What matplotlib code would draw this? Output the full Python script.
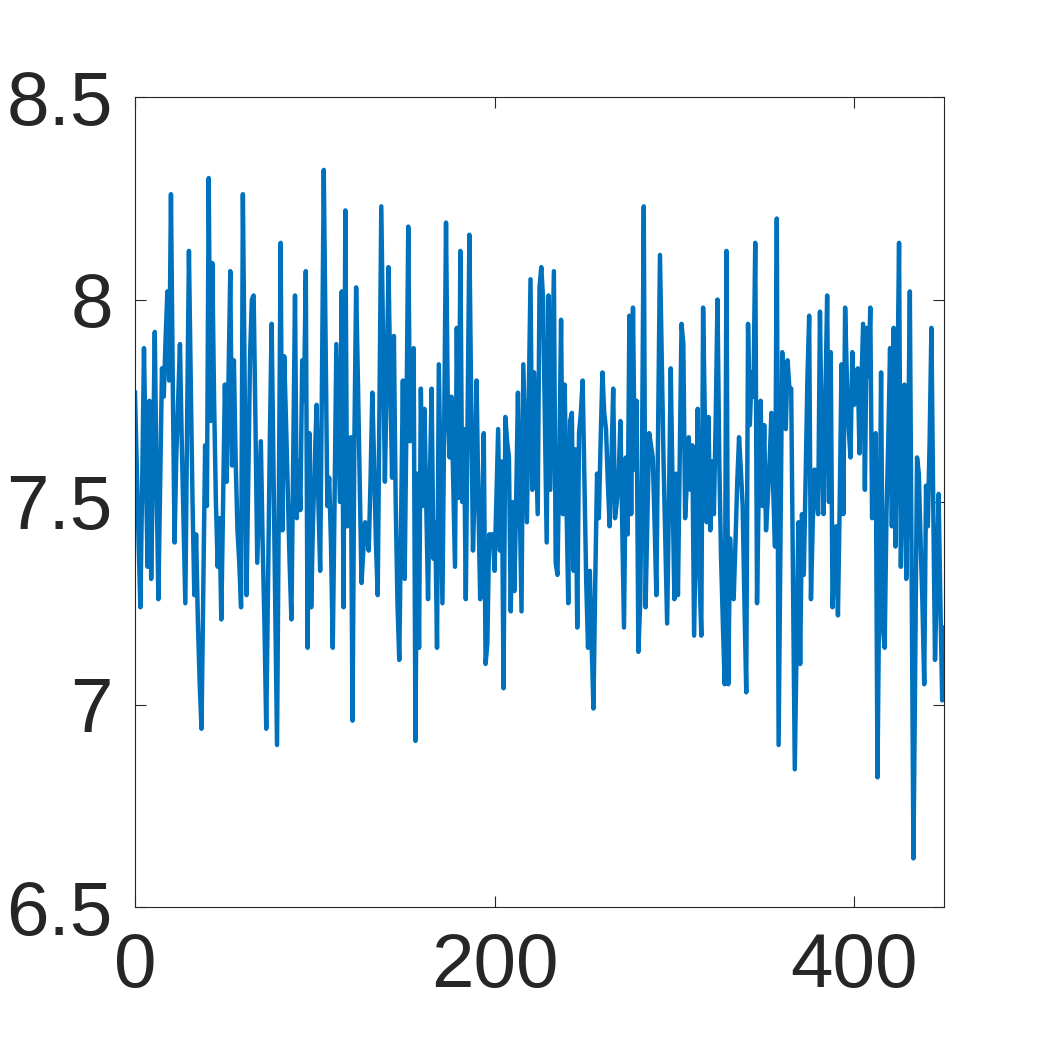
import matplotlib
matplotlib.use("Agg")
import matplotlib.pyplot as plt
import numpy as np

# values, one per sample (x = 0..450)
values = [
    7.77, 7.58, 7.40, 7.24, 7.55, 7.88, 7.60, 7.34, 7.75, 7.31,
    7.60, 7.92, 7.55, 7.26, 7.55, 7.83, 7.76, 7.90, 8.02, 7.80,
    8.26, 7.80, 7.40, 7.62, 7.75, 7.89, 7.65, 7.45, 7.25, 7.70,
    8.12, 7.80, 7.50, 7.27, 7.42, 7.20, 7.05, 6.94, 7.30, 7.64,
    7.49, 8.30, 7.70, 8.09, 7.75, 7.50, 7.34, 7.46, 7.21, 7.50,
    7.79, 7.55, 7.80, 8.07, 7.59, 7.85, 7.60, 7.43, 7.35, 7.24,
    8.26, 7.80, 7.27, 7.55, 7.86, 8.00, 8.01, 7.70, 7.35, 7.50,
    7.65, 7.40, 7.20, 6.94, 7.30, 7.65, 7.94, 7.60, 7.25, 6.90,
    7.50, 8.14, 7.43, 7.86, 7.70, 7.53, 7.35, 7.21, 7.60, 8.01,
    7.46, 7.60, 7.48, 7.85, 7.75, 8.07, 7.14, 7.67, 7.24, 7.45,
    7.60, 7.74, 7.50, 7.33, 7.80, 8.32, 7.90, 7.49, 7.56, 7.40,
    7.14, 7.50, 7.89, 7.70, 7.50, 8.02, 7.24, 8.22, 7.44, 7.55,
    7.66, 6.96, 7.64, 8.03, 7.80, 7.55, 7.30, 7.38, 7.45, 7.42,
    7.38, 7.55, 7.77, 7.60, 7.40, 7.27, 7.75, 8.23, 7.90, 7.55,
    7.80, 8.08, 7.80, 7.56, 7.91, 7.50, 7.25, 7.11, 7.45, 7.80,
    7.31, 7.70, 8.18, 7.65, 7.75, 7.88, 6.91, 7.57, 7.14, 7.78,
    7.49, 7.73, 7.50, 7.26, 7.55, 7.78, 7.36, 7.45, 7.14, 7.84,
    7.55, 7.25, 7.70, 8.19, 7.73, 7.61, 7.76, 7.55, 7.34, 7.93,
    7.51, 8.12, 7.50, 7.68, 7.26, 7.70, 8.16, 7.75, 7.38, 7.55,
    7.80, 7.50, 7.26, 7.45, 7.67, 7.10, 7.15, 7.42, 7.42, 7.42,
    7.33, 7.50, 7.68, 7.38, 7.60, 7.04, 7.71, 7.65, 7.61, 7.23,
    7.50, 7.28, 7.50, 7.77, 7.50, 7.23, 7.84, 7.65, 7.45, 7.75,
    8.05, 7.53, 7.82, 7.65, 7.47, 8.03, 8.08, 8.00, 7.70, 7.40,
    8.01, 7.53, 7.80, 8.07, 7.35, 7.32, 7.60, 7.95, 7.47, 7.79,
    7.50, 7.25, 7.70, 7.72, 7.33, 7.63, 7.19, 7.67, 7.72, 7.80,
    7.55, 7.30, 7.14, 7.33, 7.15, 6.99, 7.30, 7.57, 7.46, 7.65,
    7.82, 7.72, 7.68, 7.55, 7.44, 7.60, 7.78, 7.46, 7.50, 7.56,
    7.70, 7.45, 7.19, 7.61, 7.42, 7.96, 7.47, 7.98, 7.58, 7.75,
    7.13, 7.25, 7.60, 8.23, 7.24, 7.45, 7.67, 7.64, 7.61, 7.45,
    7.27, 7.70, 8.11, 7.85, 7.60, 7.40, 7.20, 7.50, 7.83, 7.55,
    7.26, 7.57, 7.27, 7.60, 7.94, 7.89, 7.46, 7.55, 7.66, 7.53,
    7.64, 7.17, 7.45, 7.73, 7.32, 7.17, 7.98, 7.70, 7.45, 7.71,
    7.43, 7.60, 7.47, 7.70, 8.00, 7.60, 7.36, 7.20, 7.05, 8.12,
    7.05, 7.41, 7.30, 7.26, 7.40, 7.55, 7.66, 7.58, 7.49, 7.25,
    7.03, 7.94, 7.69, 7.82, 7.76, 8.14, 7.25, 7.55, 7.75, 7.49,
    7.69, 7.43, 7.51, 7.60, 7.72, 7.53, 7.39, 8.20, 6.90, 7.40,
    7.87, 7.75, 7.68, 7.85, 7.78, 7.78, 7.30, 6.84, 7.15, 7.45,
    7.10, 7.47, 7.32, 7.55, 7.80, 7.96, 7.26, 7.45, 7.58, 7.52,
    7.47, 7.97, 7.65, 7.47, 7.75, 8.01, 7.50, 7.87, 7.24, 7.35,
    7.44, 7.22, 7.50, 7.84, 7.47, 7.98, 7.80, 7.68, 7.61, 7.87,
    7.74, 7.80, 7.83, 7.62, 7.78, 7.94, 7.53, 7.93, 7.81, 7.98,
    7.46, 7.55, 7.67, 6.82, 7.30, 7.82, 7.19, 7.14, 7.47, 7.65,
    7.88, 7.44, 7.93, 7.39, 7.75, 8.14, 7.34, 7.60, 7.79, 7.31,
    7.60, 8.02, 7.30, 6.62, 7.10, 7.61, 7.57, 7.40, 7.25, 7.05,
    7.54, 7.44, 7.65, 7.93, 7.50, 7.11, 7.30, 7.52, 7.25, 7.01,
    7.19,
]
x_ticks = [0, 200, 400]
y_ticks = [6.5, 7, 7.5, 8, 8.5]
y_tick_labels = ["6.5", "7", "7.5", "8", "8.5"]

plt.rcParams['font.family'] = ['Liberation Sans', 'DejaVu Sans']

fig = plt.figure(figsize=(10.43, 10.42), dpi=100)
ax = fig.add_axes([135 / 1043, 1 - 907 / 1042, 809 / 1043, 810 / 1042])

x = np.arange(len(values))
ax.plot(x, values, color='#0072BD', linewidth=3.2)

ax.set_xlim(0, 450)
ax.set_ylim(6.5, 8.5)
ax.set_xticks(x_ticks)
ax.set_yticks(y_ticks)
ax.set_yticklabels(y_tick_labels)

for spine in ax.spines.values():
    spine.set_color('#262626')
    spine.set_linewidth(0.8)
ax.tick_params(direction='in', top=True, right=True, length=8, width=0.8,
               colors='#262626', labelsize=55)
ax.tick_params(axis='x', pad=18)
ax.tick_params(axis='y', pad=16)

fig.savefig('out.png', dpi=100)
